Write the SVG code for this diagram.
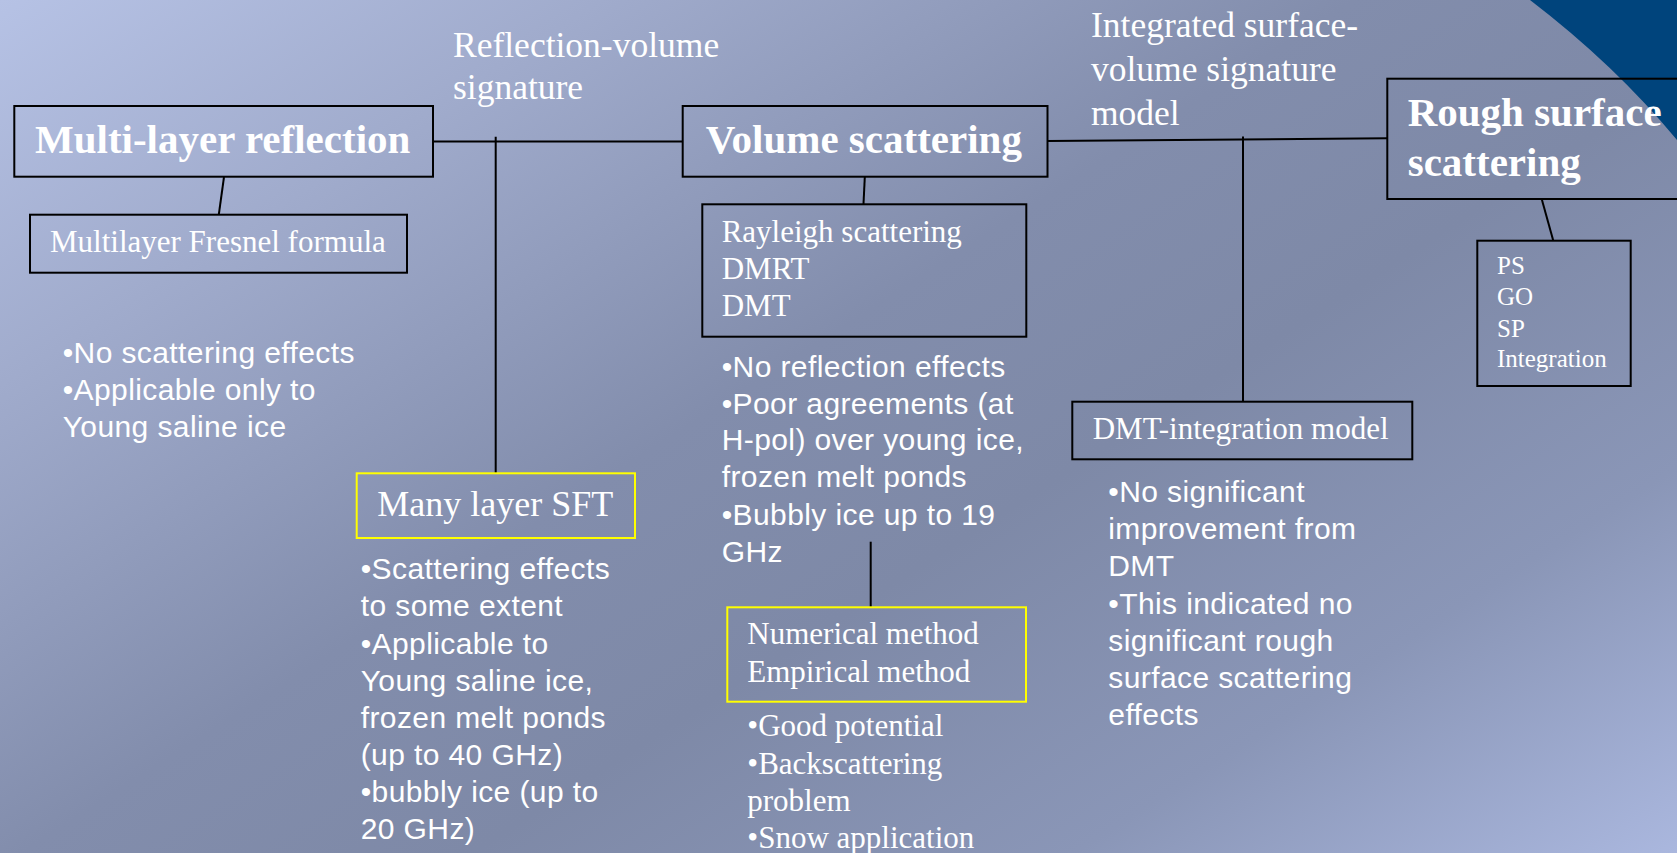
<svg xmlns="http://www.w3.org/2000/svg" width="1677" height="853" viewBox="0 0 1677 853">
<defs>
<linearGradient id="bg" gradientUnits="userSpaceOnUse" x1="0" y1="0" x2="874" y2="1366">
<stop offset="0" stop-color="#b6c2e5"/>
<stop offset="0.2" stop-color="#a0abcc"/>
<stop offset="0.45" stop-color="#828dac"/>
<stop offset="0.6" stop-color="#7e89a7"/>
<stop offset="0.8" stop-color="#8a96b7"/>
<stop offset="1" stop-color="#aab7de"/>
</linearGradient>
<style>
.box{fill:none;stroke:#000;stroke-width:2}
.ybox{fill:none;stroke:#ffff00;stroke-width:2}
.title{font-family:"Liberation Serif","Times New Roman",serif;font-weight:bold;font-size:41px;fill:#fff}
.serif{font-family:"Liberation Serif","Times New Roman",serif;font-size:31px;fill:#fff}
.lbl{font-family:"Liberation Serif","Times New Roman",serif;font-size:35.5px;fill:#fff}
.sft{font-family:"Liberation Serif","Times New Roman",serif;font-size:36px;fill:#fff}
.small{font-family:"Liberation Serif","Times New Roman",serif;font-size:25px;fill:#fff}
.sans{font-family:"Liberation Sans",Arial,sans-serif;font-size:30px;letter-spacing:0.4px;fill:#fff}
.conn{stroke:#000;stroke-width:2;fill:none}
</style>
</defs>
<rect x="0" y="0" width="1677" height="853" fill="url(#bg)"/>
<path d="M1530,0 Q1615,65 1677,140 L1677,0 Z" fill="#00447c"/>

<g id="connectors">
<path class="conn" d="M433,141.5 H683"/>
<path class="conn" d="M495.7,136.7 V473.3"/>
<path class="conn" d="M224,177 L218.8,214.7"/>
<path class="conn" d="M1047.5,141 L1387.3,138.3"/>
<path class="conn" d="M1243,136.5 V401.7"/>
<path class="conn" d="M864.8,177 L863.5,204"/>
<path class="conn" d="M870.7,541.7 V607.3"/>
<path class="conn" d="M1541.7,199 L1553.3,240.7"/>
</g>

<g id="label-reflection-volume">
<text class="lbl" x="453" y="57">Reflection-volume</text>
<text class="lbl" x="453" y="99">signature</text>
</g>

<g id="label-integrated">
<text class="lbl" x="1091" y="37">Integrated surface-</text>
<text class="lbl" x="1091" y="81">volume signature</text>
<text class="lbl" x="1091" y="125">model</text>
</g>

<g id="node-multilayer">
<rect class="box" x="14.3" y="106" width="418.7" height="70.7"/>
<text class="title" x="35" y="153">Multi-layer reflection</text>
</g>

<g id="node-fresnel">
<rect class="box" x="30" y="214.7" width="377" height="58"/>
<text class="serif" x="50" y="252">Multilayer Fresnel formula</text>
</g>

<g id="notes-multilayer">
<text class="sans" x="62.7" y="362.7">•No scattering effects</text>
<text class="sans" x="62.7" y="399.5">•Applicable only to</text>
<text class="sans" x="62.7" y="436.7">Young saline ice</text>
</g>

<g id="node-sft">
<rect class="ybox" x="356.7" y="473.3" width="278.3" height="64.7"/>
<text class="sft" x="377.3" y="516">Many layer SFT</text>
</g>

<g id="notes-sft">
<text class="sans" x="360.7" y="579.3">•Scattering effects</text>
<text class="sans" x="360.7" y="616.3">to some extent</text>
<text class="sans" x="360.7" y="653.5">•Applicable to</text>
<text class="sans" x="360.7" y="690.7">Young saline ice,</text>
<text class="sans" x="360.7" y="727.7">frozen melt ponds</text>
<text class="sans" x="360.7" y="765">(up to 40 GHz)</text>
<text class="sans" x="360.7" y="802.3">•bubbly ice (up to</text>
<text class="sans" x="360.7" y="839.3">20 GHz)</text>
</g>

<g id="node-volume">
<rect class="box" x="682.7" y="106" width="364.8" height="70.7"/>
<text class="title" x="705.7" y="153">Volume scattering</text>
</g>

<g id="node-rayleigh">
<rect class="box" x="702.3" y="204.3" width="324" height="132.4"/>
<text class="serif" x="721.7" y="241.7">Rayleigh scattering</text>
<text class="serif" x="721.7" y="279">DMRT</text>
<text class="serif" x="721.7" y="316">DMT</text>
</g>

<g id="notes-volume">
<text class="sans" x="721.7" y="376.7">•No reflection effects</text>
<text class="sans" x="721.7" y="413.5">•Poor agreements (at</text>
<text class="sans" x="721.7" y="450.3">H-pol) over young ice,</text>
<text class="sans" x="721.7" y="487">frozen melt ponds</text>
<text class="sans" x="721.7" y="524.5">•Bubbly ice up to 19</text>
<text class="sans" x="721.7" y="561.7">GHz</text>
</g>

<g id="node-numerical">
<rect class="ybox" x="727.3" y="607.3" width="298.7" height="94.4"/>
<text class="serif" x="747.3" y="644.3">Numerical method</text>
<text class="serif" x="747.3" y="682.3">Empirical method</text>
</g>

<g id="notes-numerical">
<text class="serif" x="747.3" y="736">•Good potential</text>
<text class="serif" x="747.3" y="774">•Backscattering</text>
<text class="serif" x="747.3" y="810.7">problem</text>
<text class="serif" x="747.3" y="847.7">•Snow application</text>
</g>

<g id="node-dmt-integration">
<rect class="box" x="1072.3" y="401.7" width="340" height="57.6"/>
<text class="serif" x="1092.7" y="439.3">DMT-integration model</text>
</g>

<g id="notes-dmt-integration">
<text class="sans" x="1108.3" y="501.7">•No significant</text>
<text class="sans" x="1108.3" y="539.3">improvement from</text>
<text class="sans" x="1108.3" y="576.3">DMT</text>
<text class="sans" x="1108.3" y="613.5">•This indicated no</text>
<text class="sans" x="1108.3" y="650.7">significant rough</text>
<text class="sans" x="1108.3" y="688.3">surface scattering</text>
<text class="sans" x="1108.3" y="725">effects</text>
</g>

<g id="node-rough">
<rect class="box" x="1387.3" y="78.7" width="300" height="120.3"/>
<text class="title" x="1407.7" y="126">Rough surface</text>
<text class="title" x="1407.7" y="175.7">scattering</text>
</g>

<g id="node-ps">
<rect class="box" x="1477.3" y="240.7" width="153.4" height="145.3"/>
<text class="small" x="1497" y="274">PS</text>
<text class="small" x="1497" y="305">GO</text>
<text class="small" x="1497" y="336.5">SP</text>
<text class="small" x="1497" y="367.3">Integration</text>
</g>
</svg>
